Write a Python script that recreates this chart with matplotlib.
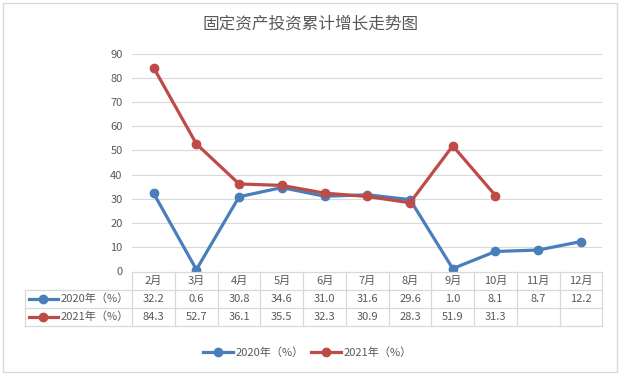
import numpy as np
import matplotlib
matplotlib.use('Agg')
from matplotlib import pyplot as plt
from matplotlib.lines import Line2D
from matplotlib.patches import Rectangle

plt.rcParams['font.family'] = ['Noto Sans CJK SC', 'DejaVu Sans']

# data -------------------------
months   = ['2月','3月','4月','5月','6月','7月','8月','9月','10月','11月','12月']
v2020    = [32.2, 0.6, 30.8, 34.6, 31.0, 31.6, 29.6, 1.0, 8.1, 8.7, 12.2]
v2021    = [84.3, 52.7, 36.1, 35.5, 32.3, 30.9, 28.3, 51.9, 31.3, None, None]
names    = ['2020年（%）', '2021年（%）']
title    = '固定资产投资累计增长走势图'
yticks   = np.arange(0, 100, 10)
# ------------------------------

colors   = ['#4A7EBB', '#BE4B48']
grey     = '#595959'
gridc    = '#D9D9D9'
W, H     = 622, 378
fig      = plt.figure(figsize=(W/100, H/100), dpi=100)

# outer frame
fig.patches.append(Rectangle((3/W, 6/H), 614/W, 369/H, transform=fig.transFigure,
                             fill=False, edgecolor=gridc, lw=1))

x0, x1 = 132.3, 602.3
ytop, ybot = 54, 271
ax = fig.add_axes([x0/W, 1-ybot/H, (x1-x0)/W, (ybot-ytop)/H])
x = np.arange(len(months))
series = [np.array([np.nan if v is None else v for v in s], float) for s in (v2020, v2021)]
for s, c, n in zip(series, colors, names):
    ax.plot(x, s, color=c, lw=2.3, marker='o', ms=6, label=n, solid_joinstyle='round')
ax.set_xlim(-0.5, len(months)-0.5)
ax.set_ylim(0, 90)
ax.set_yticks(yticks)
ax.set_xticks([])
ax.tick_params(axis='y', length=0, pad=7, labelsize=8, labelcolor=grey)
for sp in ax.spines.values():
    sp.set_visible(False)
ax.grid(axis='y', color=gridc, lw=0.8)
ax.set_axisbelow(True)

# data table below
tb = fig.add_axes([x0/W, 1-326/H, (x1-x0)/W, (326-271.7)/H])
tb.set_xlim(-0.5, len(months)-0.5)
tb.set_ylim(3, 0)
tb.axis('off')
lab_left = -3.0
kw = dict(color=gridc, lw=0.9, clip_on=False)
tb.plot([-0.5, len(months)-0.5], [0, 0], **kw)
for r in (1, 2, 3):
    tb.plot([lab_left, len(months)-0.5], [r, r], **kw)
tb.plot([lab_left, lab_left], [1, 3], **kw)
for i in range(len(months)+1):
    tb.plot([i-0.5, i-0.5], [0, 3], **kw)
for i, m in enumerate(months):
    tb.text(i, 0.5, m, ha='center', va='center', fontsize=8, color=grey)
for r, (s, c, n) in enumerate(zip(series, colors, names)):
    yy = r + 1.5
    for i, v in enumerate(s):
        if not np.isnan(v):
            tb.text(i, yy, f'{v:.1f}', ha='center', va='center', fontsize=8, color=grey)
    tb.plot([lab_left+0.08, lab_left+0.75], [yy, yy], color=c, lw=2.3, clip_on=False)
    tb.plot([lab_left+0.415], [yy], 'o', color=c, ms=6, clip_on=False)
    tb.text(lab_left+0.83, yy, n, ha='left', va='center', fontsize=8, color=grey, clip_on=False)

fig.text(0.5, 1-24/H, title, ha='center', va='center', fontsize=12, color=grey)

handles = [Line2D([], [], color=c, lw=2.3, marker='o', ms=6) for c in colors]
fig.legend(handles, names, loc='center', bbox_to_anchor=(0.494, 1-353/H), ncol=2,
           frameon=False, fontsize=8, handlelength=2.7, handletextpad=0.25,
           columnspacing=0.6, labelcolor=grey)

plt.savefig('out.png', dpi=100)
